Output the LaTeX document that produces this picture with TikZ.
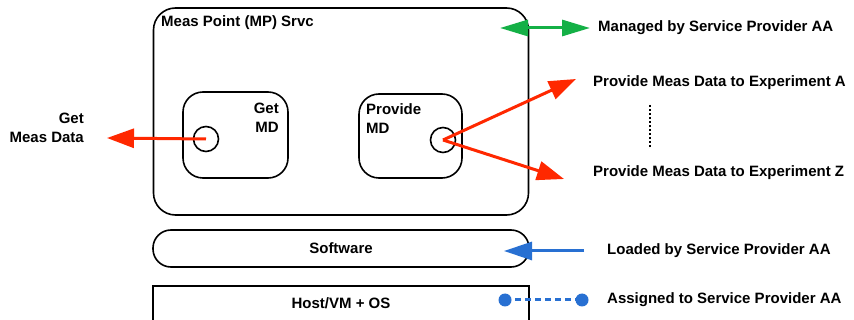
\documentclass[tikz,border=0pt]{standalone}
\usepackage{fontspec}
\setmainfont{Liberation Sans}
\usetikzlibrary{arrows.meta}
\definecolor{myred}{RGB}{255,40,0}
\definecolor{mygreen}{RGB}{20,176,70}
\definecolor{myblue}{RGB}{40,112,210}
\tikzset{
  box/.style={draw=black,line width=1.6pt,inner sep=0pt},
  txt/.style={font=\bfseries\fontsize{15}{19}\selectfont,inner sep=0pt},
  redarrow/.style={draw=myred,line width=3pt,-{Triangle[length=27pt,width=19pt]}},
  port/.style={draw=black,line width=1.6pt,circle,minimum size=25pt,inner sep=0pt},
}
\begin{document}
\begin{tikzpicture}[x=1pt,y=-1pt]
\useasboundingbox (0,0) rectangle (854,320);
\fill[white] (0,0) rectangle (854,320);
% main boxes
\node[box,rounded corners=22pt,minimum width=375pt,minimum height=207pt] (mp) at (341,111.5) {};
\node[txt,anchor=west] (mplabel) at (161,23) {Meas Point (MP) Srvc};
\node[box,rounded corners=20pt,minimum width=105pt,minimum height=86pt] (get) at (235.5,135) {};
\node[txt,align=right,anchor=north east] (getlabel) at (279,103) {Get\\MD};
\node[box,rounded corners=20pt,minimum width=103pt,minimum height=84pt] (prov) at (410.5,136) {};
\node[txt,align=left,anchor=north west] (provlabel) at (366,103) {Provide\\MD};
\node[port] (getc) at (206,139) {};
\node[port] (provc) at (443,140) {};
\node[box,rounded corners=18pt,minimum width=376pt,minimum height=37pt,txt] (sw) at (341,248.5) {Software};
\node[box,minimum width=376pt,minimum height=50pt] (host) at (341,311) {};
\node[txt] (hostlabel) at (341,303) {Host/VM + OS};
% right texts
\node[txt,anchor=west] (managed) at (598,28) {Managed by Service Provider AA};
\node[txt,anchor=west] (expa) at (593,83) {Provide Meas Data to Experiment A};
\node[txt,anchor=west] (expz) at (593,173) {Provide Meas Data to Experiment Z};
\node[txt,anchor=west] (loaded) at (607,251) {Loaded by Service Provider AA};
\node[txt,anchor=west] (assigned) at (607,300) {Assigned to Service Provider AA};
\node[txt,align=right,anchor=east] (getmeas) at (84,128) {Get\\Meas Data};
% coordinates
\coordinate (getout) at (107,138);
\coordinate (tipa) at (576,79);
\coordinate (tipz) at (564,179);
\coordinate (gl) at (500,28);
\coordinate (gr) at (590,28);
\coordinate (bt) at (584,251);
\coordinate (bh) at (504,251);
\coordinate (d1) at (505,300);
\coordinate (d2) at (582,300);
\coordinate (dt) at (650,105);
\coordinate (db) at (650,147);
% arrows
\draw[redarrow] (getc.center) -- (getout);
\draw[redarrow] (provc.center) -- (tipa);
\draw[redarrow] (provc.center) -- (tipz);
\draw[draw=mygreen,line width=3pt,{Triangle[length=28pt,width=16pt]}-{Triangle[length=28pt,width=16pt]}] (gl) -- (gr);
\draw[draw=myblue,line width=3pt,-{Triangle[length=28pt,width=18pt]}] (bt) -- (bh);
\draw[draw=myblue,line width=3pt,dash pattern=on 6pt off 4pt] (d1) -- (d2);
\fill[myblue] (d1) circle (6.5pt);
\fill[myblue] (d2) circle (6.5pt);
\draw[black,line width=2pt,dash pattern=on 2.5pt off 1.5pt] (dt) -- (db);
\end{tikzpicture}
\end{document}
